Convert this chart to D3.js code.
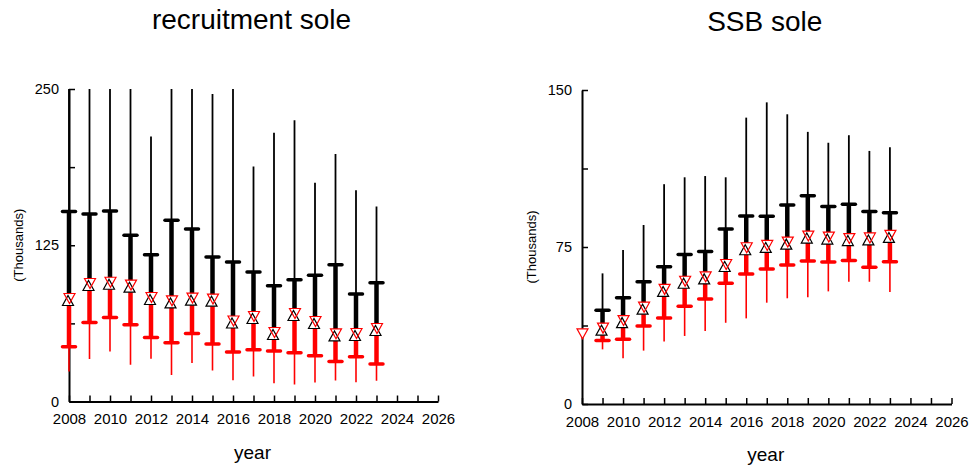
<html>
  <head>
    <style>
body { margin: 0; background: white; }
text { font-family: "Liberation Sans", Arial, sans-serif; fill: black; }
    </style>
    <script src="https://d3js.org/d3.v7.min.js"></script>
  </head>
  <body>
    <div id="viz"></div>
    <script>

var years = d3.range(2008, 2024);

// recruitment sole (thousands)
var recHi  = [260, 260, 260, 260, 212, 260, 260, 246, 260, 188, 215, 225, 175, 198, 169, 156];
var recQ3  = [152, 150, 152.5, 133, 117.5, 145, 138, 115.7, 111.7, 103.7, 92.7, 97.5, 101, 109.5, 86, 95];
var recMid = [82, 94, 95, 92.7, 82.8, 80.1, 82.3, 81.5, 64, 67.6, 54.8, 70, 63.6, 53.7, 54, 58];
var recQ1  = [43.8, 63.3, 67.3, 61.5, 51.3, 47, 54.5, 46, 39.6, 41.4, 40.4, 39, 36.6, 32, 35.8, 30];
var recLo  = [24, 34, 40, 29.4, 34.2, 21.2, 30.8, 24.8, 17, 20, 14.7, 13.6, 15.2, 16.8, 15.5, 16.6];

// SSB sole (thousands)
var ssbHi  = [null, 62.4, 73.6, 85.5, 105, 108.3, 108.9, 108.3, 136.8, 144.1, 138.4, 130, 124.8, 128.4, 120.9, 122.6];
var ssbQ3  = [null, 44.8, 50.8, 58.4, 65.6, 71.4, 72.8, 83.6, 89.8, 89.7, 95.1, 99.5, 94.3, 95.4, 91.9, 91.4];
var ssbMid = [33.3, 36, 39.6, 46, 54.5, 58.4, 60.5, 66.4, 74.4, 75.5, 77.1, 80, 79.5, 78.8, 79.1, 80.3];
var ssbQ1  = [null, 30.3, 30.9, 37.3, 41.1, 46.7, 50.2, 57.7, 62.1, 64.5, 66.4, 68.3, 67.8, 68.5, 65.3, 68];
var ssbLo  = [null, 26.1, 21.8, 25.5, 29.8, 32.5, 34.9, 38.8, 40.9, 48.4, 50.5, 51, 53.8, 58.4, 58.4, 53.5];

var xTickLabels = [2008, 2010, 2012, 2014, 2016, 2018, 2020, 2022, 2024, 2026];

var svg = d3.select('#viz')
    .append('svg')
    .attr('width', 972)
    .attr('height', 466);

function makeRows(hi, q3, mid, q1, lo) {
  return years.map(function(y, i) {
    return {year: y, hi: hi[i], q3: q3[i], mid: mid[i], q1: q1[i], lo: lo[i]};
  });
}

function drawPanel(opt) {
  var g = svg.append('g');
  var x = d3.scaleLinear().domain([2008, 2026]).range([opt.left, opt.right]);
  var y = d3.scaleLinear().domain([0, opt.ymax]).range([opt.bottom, opt.top]);
  var cl = function(v) { return y(Math.min(v, opt.ymax)); };

  // axes (ticks inside)
  var xa = d3.axisBottom(x).tickValues(d3.range(2008, 2027)).tickSize(-6).tickSizeOuter(0)
      .tickFormat(function(d) { return xTickLabels.indexOf(d) >= 0 ? d : ''; });
  var gx = g.append('g').attr('transform', 'translate(0,' + opt.bottom + ')').call(xa);
  gx.select('.domain').attr('stroke-width', 2);
  gx.selectAll('.tick line').attr('stroke-width', 1.5);
  gx.selectAll('.tick text').attr('dy', '1.3em').style('font-size', '15px')
    .style('font-family', '"Liberation Sans", Arial, sans-serif');

  var ya = d3.axisLeft(y).tickValues(d3.range(0, opt.ymax + 1, opt.ymax / 4)).tickSize(-6).tickSizeOuter(0)
      .tickFormat(function(d) { return (d % (opt.ymax / 2) === 0) ? d : ''; });
  var gy = g.append('g').attr('transform', 'translate(' + opt.left + ',0)').call(ya);
  gy.select('.domain').attr('stroke-width', 2);
  gy.selectAll('.tick line').attr('stroke-width', 1.5);
  gy.selectAll('.tick text').attr('x', -10).style('font-size', '14.5px')
    .style('font-family', '"Liberation Sans", Arial, sans-serif');

  // titles
  g.append('text').attr('x', (opt.left + opt.right) / 2 - 2).attr('y', opt.titleY)
    .attr('text-anchor', 'middle').style('font-size', '28px').text(opt.title);
  g.append('text').attr('x', (opt.left + opt.right) / 2 - 1).attr('y', opt.bottom + 57)
    .attr('text-anchor', 'middle').style('font-size', '19px').text('year');
  g.append('text').attr('transform', 'translate(' + (opt.left - 46) + ',' + ((opt.top + opt.bottom) / 2) + ') rotate(-90)')
    .attr('text-anchor', 'middle').style('font-size', '13px').text('(Thousands)');

  var rows = opt.rows;
  var withBars = rows.filter(function(d) { return d.q3 != null; });

  // black: thin to upper bound, thick + bar at upper quartile
  g.selectAll('.bthin').data(withBars).enter().append('line')
    .attr('x1', function(d) { return x(d.year); }).attr('x2', function(d) { return x(d.year); })
    .attr('y1', function(d) { return cl(d.hi); }).attr('y2', function(d) { return y(d.mid); })
    .attr('stroke', 'black').attr('stroke-width', 1.8);
  g.selectAll('.bthick').data(withBars).enter().append('line')
    .attr('x1', function(d) { return x(d.year); }).attr('x2', function(d) { return x(d.year); })
    .attr('y1', function(d) { return cl(d.q3); }).attr('y2', function(d) { return y(d.mid); })
    .attr('stroke', 'black').attr('stroke-width', 4.5);
  g.selectAll('.btick').data(withBars).enter().append('line')
    .attr('x1', function(d) { return x(d.year) - 6.5; }).attr('x2', function(d) { return x(d.year) + 6.5; })
    .attr('y1', function(d) { return cl(d.q3); }).attr('y2', function(d) { return cl(d.q3); })
    .attr('stroke', 'black').attr('stroke-width', 3.5).attr('stroke-linecap', 'round');

  // red: thin to lower bound, thick + bar at lower quartile
  g.selectAll('.rthin').data(withBars).enter().append('line')
    .attr('x1', function(d) { return x(d.year); }).attr('x2', function(d) { return x(d.year); })
    .attr('y1', function(d) { return y(d.mid); }).attr('y2', function(d) { return y(d.lo); })
    .attr('stroke', 'red').attr('stroke-width', 1.6);
  g.selectAll('.rthick').data(withBars).enter().append('line')
    .attr('x1', function(d) { return x(d.year); }).attr('x2', function(d) { return x(d.year); })
    .attr('y1', function(d) { return y(d.mid); }).attr('y2', function(d) { return y(d.q1); })
    .attr('stroke', 'red').attr('stroke-width', 4.5);
  g.selectAll('.rtick').data(withBars).enter().append('line')
    .attr('x1', function(d) { return x(d.year) - 6.5; }).attr('x2', function(d) { return x(d.year) + 6.5; })
    .attr('y1', function(d) { return y(d.q1); }).attr('y2', function(d) { return y(d.q1); })
    .attr('stroke', 'red').attr('stroke-width', 3.5).attr('stroke-linecap', 'round');

  // markers
  var up = 'M-5.5,5L5.5,5L0,-5Z';
  var down = 'M-5.5,-5L5.5,-5L0,5Z';
  var mk = g.selectAll('.mk').data(rows).enter().append('g')
    .attr('transform', function(d) { return 'translate(' + x(d.year) + ',' + y(d.mid) + ')'; });
  mk.filter(function(d) { return d.q3 != null; }).append('path')
    .attr('d', up).attr('transform', 'translate(-1,1.5)').attr('fill', 'white');
  mk.append('path').attr('d', down).attr('transform', 'translate(0.5,-0.5)').attr('fill', 'white');
  mk.filter(function(d) { return d.q3 != null; }).append('path')
    .attr('d', up).attr('transform', 'translate(-1,1.5)').attr('fill', 'none')
    .attr('stroke', 'black').attr('stroke-width', 1.2);
  mk.append('path').attr('d', down).attr('transform', 'translate(0.5,-0.5)').attr('fill', 'none')
    .attr('stroke', 'red').attr('stroke-width', 1.2);
}

drawPanel({
  title: 'recruitment sole', titleY: 29,
  left: 69, right: 438, top: 89, bottom: 401.5, ymax: 250,
  rows: makeRows(recHi, recQ3, recMid, recQ1, recLo)
});

drawPanel({
  title: 'SSB sole', titleY: 31,
  left: 582, right: 951.5, top: 90, bottom: 404, ymax: 150,
  rows: makeRows(ssbHi, ssbQ3, ssbMid, ssbQ1, ssbLo)
});

    </script>
  </body>
</html>
